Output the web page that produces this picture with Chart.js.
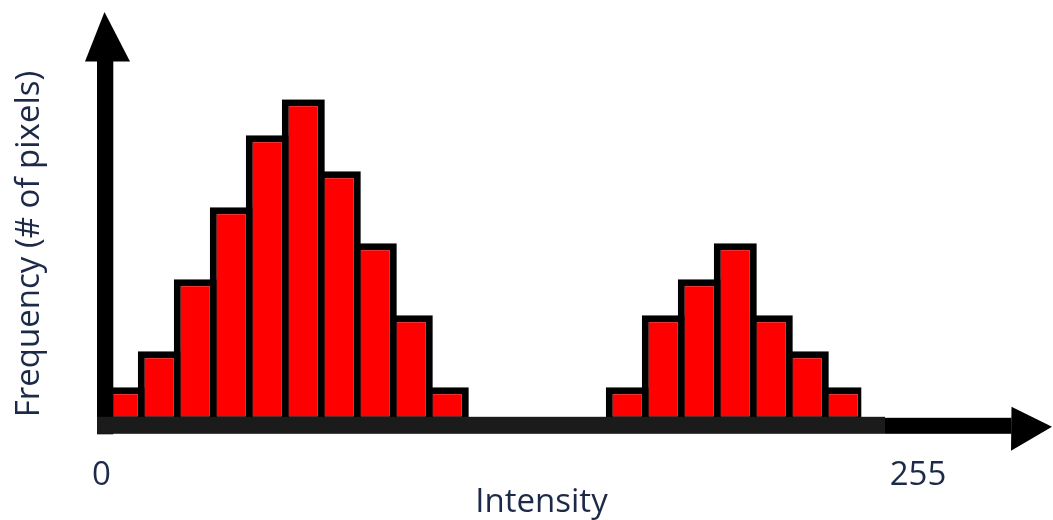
<!DOCTYPE html>
<html>
<head>
<meta charset="utf-8">
<script src="https://cdn.jsdelivr.net/npm/chart.js@4/dist/chart.umd.min.js"></script>
<style>
  html, body { margin: 0; padding: 0; background: #ffffff; }
  #wrap { position: relative; width: 1053px; height: 520px; }
</style>
</head>
<body>
<div id="wrap"><canvas id="c" width="1053" height="520"></canvas></div>
<script>
// ---- data ----
const bins = ['1','2','3','4','5','6','7','8','9','10','11','12','13','14','15','16','17','18','19','20','21'];
const frequency = [1, 2, 4, 6, 8, 9, 7, 5, 3, 1, 0, 0, 0, 0, 1, 3, 4, 5, 3, 2, 1];
const axisEndLabels = ['0', '255'];
const xTitle = 'Intensity';
const yTitle = 'Frequency (# of pixels)';

const textColor = '#1c2a48';
const FONT = '33px "Open Sans", "Noto Sans", sans-serif';

const axesPlugin = {
  id: 'arrowAxes',
  afterDatasetsDraw(chart) {
    const ctx = chart.ctx;
    const a = chart.chartArea;
    const y0 = chart.scales.y.getPixelForValue(0);
    ctx.save();
    // vertical shaft
    ctx.fillStyle = '#000000';
    ctx.fillRect(a.left - 8.3, 61, 16.3, y0 + 11 - 61);
    // vertical arrow head
    ctx.beginPath();
    ctx.moveTo(a.left - 0.8, 12);
    ctx.lineTo(a.left - 20.3, 61.5);
    ctx.lineTo(a.left + 24.7, 61.5);
    ctx.closePath();
    ctx.fill();
    // gray band under bars
    ctx.fillStyle = '#1b1b1b';
    ctx.fillRect(a.left - 8.3, y0 - 6.5, a.right + 23.7 - (a.left - 8.3), 17);
    // black shaft to the right
    ctx.fillStyle = '#000000';
    ctx.fillRect(a.right + 23.7, y0 - 5.5, 1011.5 - (a.right + 23.7), 16);
    // right arrow head
    ctx.beginPath();
    ctx.moveTo(1011.5, y0 - 16.5);
    ctx.lineTo(1052, y0 + 3.5);
    ctx.lineTo(1011, y0 + 27.5);
    ctx.closePath();
    ctx.fill();

    // labels
    ctx.fillStyle = textColor;
    ctx.font = FONT;
    ctx.textBaseline = 'alphabetic';
    ctx.textAlign = 'center';
    ctx.fillText(axisEndLabels[0], a.left - 3.8, y0 + 61.5);
    ctx.fillText(axisEndLabels[1], 918, y0 + 61.5);
    ctx.fillText(xTitle, 541.5, y0 + 88.5);
    // rotated y title
    ctx.translate(38.5, 244);
    ctx.rotate(-Math.PI / 2);
    ctx.fillText(yTitle, 0, 0);
    ctx.restore();
  }
};

new Chart(document.getElementById('c'), {
  type: 'bar',
  data: {
    labels: bins,
    datasets: [{
      data: frequency,
      backgroundColor: '#ff0000',
      borderColor: '#000000',
      borderWidth: 7,
      borderSkipped: false,
      barPercentage: 43 / 36,
      categoryPercentage: 1.0
    }]
  },
  options: {
    responsive: false,
    animation: false,
    layout: { padding: { left: 105.3, right: 191.7, top: 99.3, bottom: 96.7 } },
    plugins: { legend: { display: false }, tooltip: { enabled: false } },
    scales: {
      x: { display: false, offset: true },
      y: { display: false, min: 0, max: 9 }
    }
  },
  plugins: [axesPlugin]
});
</script>
</body>
</html>
